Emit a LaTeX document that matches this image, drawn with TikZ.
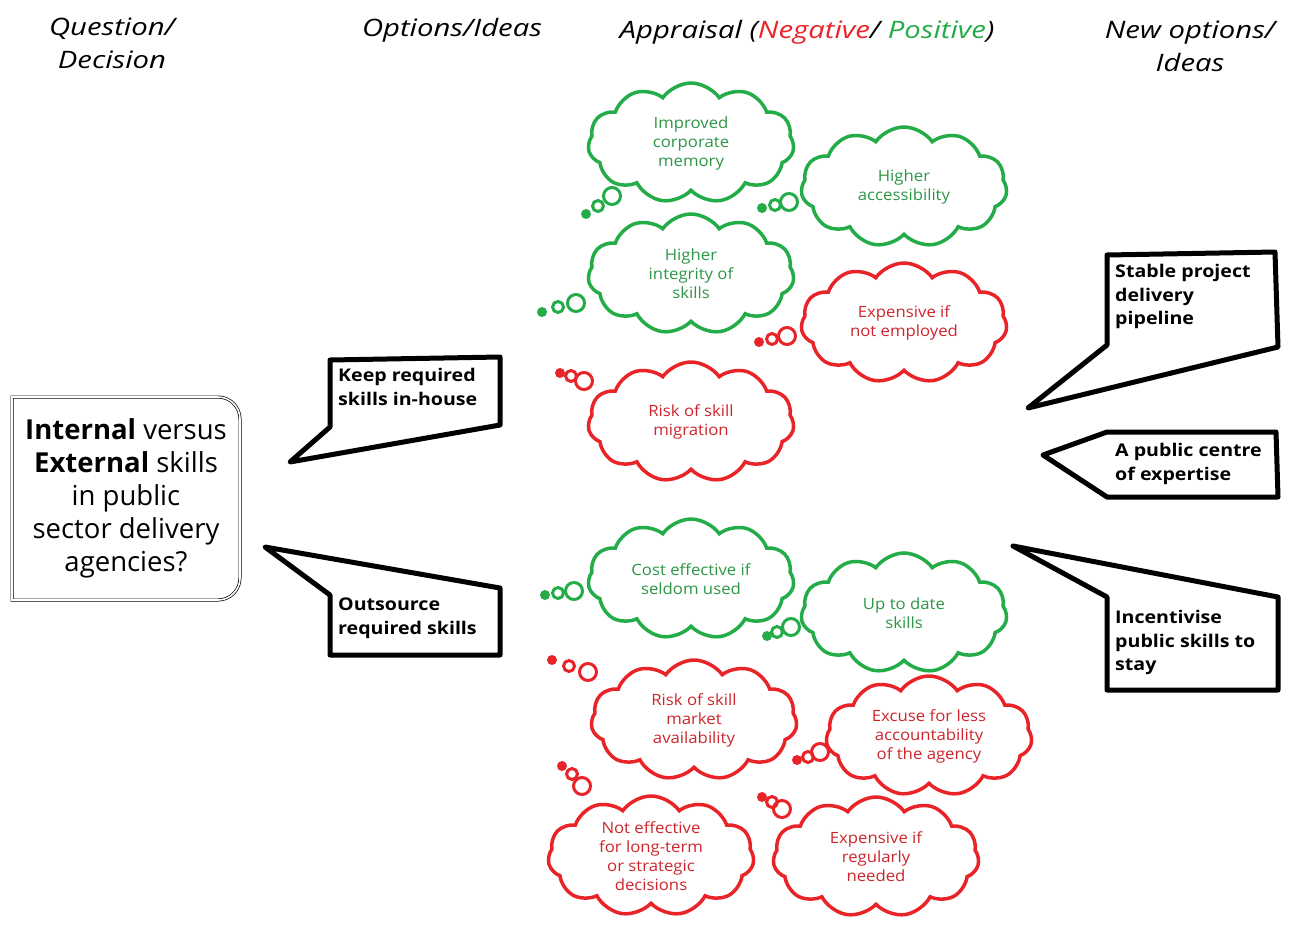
\documentclass[tikz,border=0pt]{standalone}
\usepackage{fontspec}
\setmainfont{Open Sans}
\usetikzlibrary{shapes.symbols}

\definecolor{posgreen}{RGB}{36,172,72}
\definecolor{negred}{RGB}{232,36,40}
\definecolor{postext}{RGB}{44,150,70}
\definecolor{negtext}{RGB}{204,38,44}

\newcommand\wide[1]{\addfontfeatures{FakeStretch=#1}}

\tikzset{
  thought/.style={cloud, cloud puffs=11, cloud puff arc=110, cloud ignores aspect,
    minimum width=206pt, minimum height=120pt, line width=3.5pt, align=center,
    inner sep=0pt, font=\fontsize{15.5}{19}\selectfont\wide{1.08}},
  good/.style={thought, draw=posgreen, text=postext},
  bad/.style={thought, draw=negred, text=negtext},
  bubble/.style={line width=5pt, line join=round, draw=black, fill=white},
  saytext/.style={anchor=north west, align=left, inner sep=0pt,
    font=\bfseries\fontsize{17.5}{23.5}\selectfont\wide{1.12}},
  heading/.style={align=center, inner sep=0pt,
    font=\itshape\fontsize{24}{33}\selectfont\wide{1.22}},
}

% three puffs trailing away from a thought cloud
\newcommand\thoughttrail[4]{%
  \draw[draw=#1, line width=3pt] (#2) circle[radius=8.5pt];
  \draw[draw=#1, line width=3pt] (#3) circle[radius=5.5pt];
  \fill[fill=#1] (#4) circle[radius=5pt];
}

\begin{document}
\begin{tikzpicture}[x=1pt, y=-1pt]
\useasboundingbox (0,0) rectangle (1289,929);

% column headings
\node[heading] (hq) at (112,43) {Question/\\Decision};
\node[heading] (ho) at (452,30) {Options/Ideas};
\node[heading] (ha) at (807,32) {Appraisal (\textcolor{negred}{Negative}/ \textcolor{posgreen}{Positive})};
\node[heading] (hn) at (1190,46) {New options/\\Ideas};

% the question
\draw[double, line width=0.7pt, double distance=1.6pt]
  (12,600) -- (12,397) -- (218,397) arc(-90:0:22) -- (240,578) arc(0:90:22) -- cycle;
\node[align=center, font=\fontsize{27.5}{33}\selectfont] (q) at (126,498)
  {\textbf{Internal} versus\\\textbf{External} skills\\in public\\sector delivery\\agencies?};

% options
\draw[bubble] (330,427) -- (330,360) -- (500,357) -- (500,425) -- (290,462) -- cycle;
\node[saytext] (o1) at (338,368) {Keep required\\skills in-house};
\draw[bubble] (265,547) -- (500,588) -- (500,655) -- (330,655) -- (330,595) -- cycle;
\node[saytext] (o2) at (338,598) {Outsource\\required skills};

% new options
\draw[bubble] (1107,345) -- (1107,255) -- (1275,252) -- (1278,347) -- (1028,408) -- cycle;
\node[saytext] (n1) at (1115,264) {Stable project\\delivery\\pipeline};
\draw[bubble] (1107,432) -- (1276,432) -- (1278,497) -- (1107,497) -- (1043,455) -- cycle;
\node[saytext] (n2) at (1115,443) {A public centre\\of expertise};
\draw[bubble] (1013,546) -- (1278,597) -- (1278,690) -- (1107,690) -- (1107,597) -- cycle;
\node[saytext] (n3) at (1115,610) {Incentivise\\public skills to\\stay};

% appraisal of keeping skills in-house
\node[good] (c1) at (691,143) {Improved\\corporate\\memory};
\thoughttrail{posgreen}{612,196}{598,206}{586,214}
\node[good] (c2) at (904,187) {Higher\\accessibility};
\thoughttrail{posgreen}{789,202}{775,205}{762,208}
\node[good] (c3) at (691,274) {Higher\\integrity of\\skills};
\thoughttrail{posgreen}{576,303}{558,307}{542,312}
\node[bad] (c4) at (904,323) {Expensive if\\not employed};
\thoughttrail{negred}{787,336}{772,339}{759,342}
\node[bad] (c5) at (691,422) {Risk of skill\\migration};
\thoughttrail{negred}{584,381}{571,376}{560,373}

% appraisal of outsourcing
\node[good] (c6) at (691,579) {Cost effective if\\seldom used};
\thoughttrail{posgreen}{574,591}{558,593}{545,595}
\node[good] (c7) at (904,613) {Up to date\\skills};
\thoughttrail{posgreen}{791,627}{777,632}{767,636}
\node[bad] (c8) at (694,720) {Risk of skill\\market\\availability};
\thoughttrail{negred}{588,672}{569,666}{552,660}
\node[bad] (c9) at (929,736) {Excuse for less\\accountability\\of the agency};
\thoughttrail{negred}{820,752}{808,757}{797,760}
\node[bad] (c10) at (651,856) {Not effective\\for long-term\\or strategic\\decisions};
\thoughttrail{negred}{582,786}{572,774}{562,766}
\node[bad] (c11) at (876,857) {Expensive if\\regularly\\needed};
\thoughttrail{negred}{782,809}{772,802}{762,797}
\end{tikzpicture}
\end{document}
